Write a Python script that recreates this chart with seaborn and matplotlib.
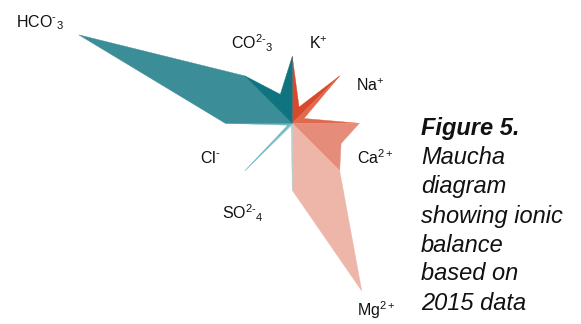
import numpy as np
import matplotlib
matplotlib.use("Agg")
import matplotlib.pyplot as plt
import seaborn as sns

# Ion composition (% of total ion equivalents), clockwise from 12 o'clock
ions = ["K", "Na", "Ca", "Mg", "SO4", "Cl", "HCO3", "CO3"]
percent = [3.2, 2.3, 9.6, 33.0, 0.5, 0.9, 42.0, 5.7]
labels = ["K$^{+}$", "Na$^{+}$", "Ca$^{2+}$", "Mg$^{2+}$",
          r"SO$^{2\text{-}}$$_{4}$", r"Cl$^{\text{-}}$",
          r"HCO$^{\text{-}}$$_{3}$", r"CO$^{2\text{-}}$$_{3}$"]
colors = ["#d8492b", "#e16a4e", "#e58c7a", "#eeb5a9",
          "#a3d2d7", "#74b8c0", "#3b8e97", "#0f7480"]
caption = ["Figure 5.", "Maucha", "diagram", "showing ionic",
           "balance", "based on", "2015 data"]

sns.set_theme(style="white")
plt.rcParams["font.family"] = ["Liberation Sans", "DejaVu Sans"]
plt.rcParams["mathtext.fontset"] = "custom"
plt.rcParams["mathtext.rm"] = "Liberation Sans"
plt.rcParams["mathtext.it"] = "Liberation Sans:italic"
plt.rcParams["mathtext.bf"] = "Liberation Sans:bold"

W, H = 581, 324
fig = plt.figure(figsize=(W / 100, H / 100), dpi=100)
ax = fig.add_axes([0, 0, 1, 1])

# circle radius is 1; pixel frame of the drawing
scale = 67.0
cx, cy = 292.3, 123.3
ax.set_xlim(-cx / scale, (W - cx) / scale)
ax.set_ylim(-(H - cy) / scale, cy / scale)
ax.set_aspect("equal")
ax.axis("off")

r0 = 1.0
half = np.pi / 8
for i, (p, col) in enumerate(zip(percent, colors)):
    a0 = np.deg2rad(90 - 45 * i)
    a1 = a0 - 2 * half
    am = a0 - half
    # kite area proportional to the ion share
    h = (p / 100.0) * np.pi * r0 / np.sin(half)
    xs = [0, r0 * np.cos(a0), h * np.cos(am), r0 * np.cos(a1)]
    ys = [0, r0 * np.sin(a0), h * np.sin(am), r0 * np.sin(a1)]
    ax.fill(xs, ys, color=col, lw=0.3, ec=col, zorder=2)


def px(x, y):
    return ((x - cx) / scale, (cy - y) / scale)


label_pos = {
    "K": (309, 43.5),
    "Na": (356, 86),
    "Ca": (357, 158),
    "Mg": (357, 310),
    "SO4": (222, 213),
    "Cl": (200, 158),
    "HCO3": (16, 23),
    "CO3": (231, 43.5),
}
for ion, lab in zip(ions, labels):
    x, y = label_pos[ion]
    ax.text(*px(x, y), lab, fontsize=11.5, ha="left", va="center",
            color="#111111", zorder=3)

for k, line in enumerate(caption):
    fig.text(421 / W, 1 - (129 + 29 * k) / H, line,
             fontsize=17, style="italic",
             weight="bold" if k == 0 else "normal",
             ha="left", va="center", color="#111111")

fig.savefig("out.png", dpi=100)
